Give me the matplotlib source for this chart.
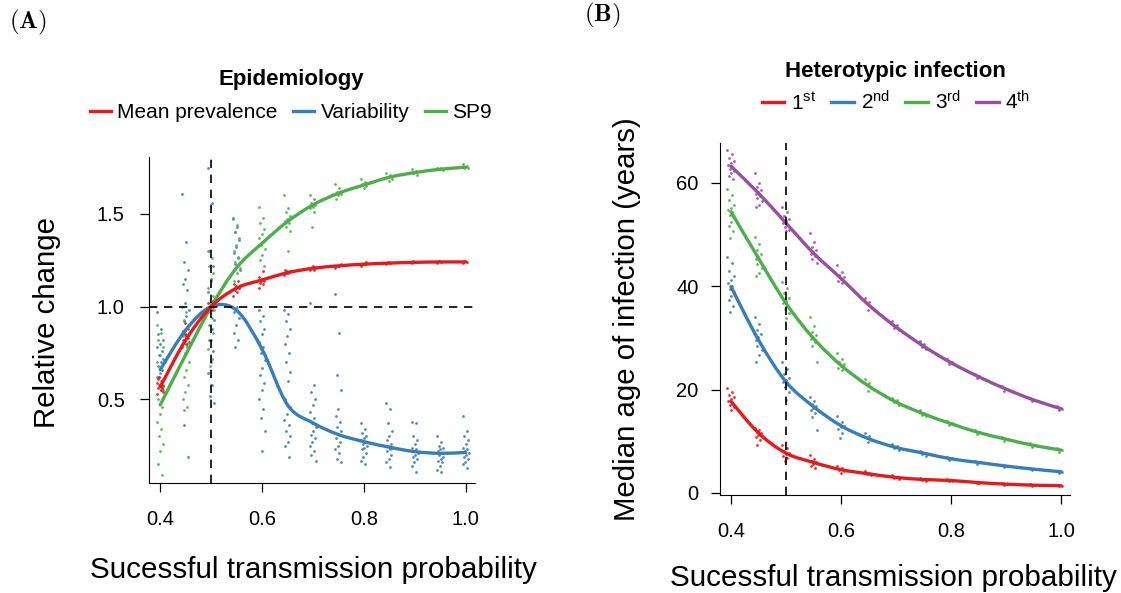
import numpy as np
import matplotlib
matplotlib.use('Agg')
import matplotlib.pyplot as plt
from matplotlib.lines import Line2D
from matplotlib.path import Path
from matplotlib.patches import PathPatch

plt.rcParams['font.family'] = ['Liberation Sans', 'DejaVu Sans']
plt.rcParams['mathtext.fontset'] = 'custom'
plt.rcParams['mathtext.rm'] = 'Liberation Sans'
plt.rcParams['mathtext.it'] = 'Liberation Sans:italic'
plt.rcParams['mathtext.bf'] = 'Liberation Sans:bold'

#%% data
prob = [0.40, 0.45, 0.50, 0.55, 0.60, 0.65, 0.70, 0.75, 0.80, 0.85, 0.90, 0.95, 1.00]

# panel A - smooth lines
prev_line = [0.567, 0.82, 1.0, 1.10, 1.144, 1.183, 1.207, 1.22, 1.229, 1.235, 1.239, 1.241, 1.241]
var_line = [0.66, 0.874, 1.0, 0.98, 0.77, 0.47, 0.373, 0.31, 0.272, 0.242, 0.218, 0.209, 0.214]
sp9_line = [0.47, 0.74, 1.0, 1.21, 1.342, 1.459, 1.549, 1.612, 1.656, 1.698, 1.723, 1.741, 1.752]

# panel A - replicate points
prev_pts = [
    [0.53, 0.55, 0.56, 0.57, 0.58, 0.59, 0.60, 0.62, 0.54, 0.57, 0.61, 0.56],
    [0.78, 0.80, 0.82, 0.83, 0.85, 0.87, 0.89, 0.91, 0.81, 0.84],
    [0.97, 0.98, 0.99, 1.00, 1.01, 1.02, 1.03, 1.00],
    [1.06, 1.08, 1.09, 1.10, 1.11, 1.12, 1.14, 1.10],
    [1.10, 1.12, 1.13, 1.14, 1.15, 1.16, 1.19, 1.14],
    [1.17, 1.18, 1.18, 1.19, 1.19, 1.20],
    [1.20, 1.20, 1.21, 1.21, 1.22],
    [1.21, 1.22, 1.22, 1.23],
    [1.22, 1.23, 1.23, 1.24],
    [1.23, 1.235, 1.24],
    [1.235, 1.24, 1.245],
    [1.235, 1.24, 1.245],
    [1.235, 1.24, 1.245],
]
var_pts = [
    [0.97, 0.88, 0.85, 0.82, 0.80, 0.78, 0.76, 0.74, 0.72, 0.70, 0.68, 0.66, 0.64, 0.62, 0.60, 0.58, 0.55],
    [1.61, 1.35, 1.24, 1.20, 1.15, 1.12, 1.09, 1.02, 0.98, 0.95, 0.92, 0.88, 0.85, 0.82, 0.78, 0.36, 0.19],
    [1.75, 1.56, 1.30, 1.22, 1.15, 1.08, 1.03, 0.98, 0.93, 0.88, 0.82, 0.76, 0.70, 0.64, 0.58, 0.52, 0.48],
    [1.48, 1.43, 1.40, 1.36, 1.32, 1.29, 1.26, 1.23, 1.20, 1.00, 0.97, 0.94, 0.90, 0.86, 0.82, 0.78],
    [0.98, 0.95, 0.92, 0.88, 0.85, 0.81, 0.78, 0.75, 0.71, 0.67, 0.63, 0.59, 0.55, 0.50, 0.45, 0.40, 0.33, 0.22],
    [0.98, 0.96, 0.92, 0.88, 0.84, 0.80, 0.75, 0.70, 0.65, 0.60, 0.50, 0.46, 0.42, 0.39, 0.36, 0.33, 0.30, 0.27, 0.25, 0.19],
    [1.02, 0.58, 0.54, 0.50, 0.47, 0.43, 0.40, 0.37, 0.35, 0.33, 0.31, 0.29, 0.27, 0.25, 0.22, 0.20, 0.17],
    [1.07, 0.86, 0.63, 0.55, 0.45, 0.41, 0.38, 0.35, 0.33, 0.31, 0.29, 0.27, 0.25, 0.23, 0.21, 0.18, 0.16],
    [0.37, 0.34, 0.32, 0.30, 0.29, 0.28, 0.27, 0.26, 0.25, 0.24, 0.23, 0.21, 0.19, 0.17, 0.15],
    [0.48, 0.45, 0.37, 0.33, 0.30, 0.28, 0.26, 0.25, 0.24, 0.23, 0.22, 0.20, 0.18, 0.16, 0.135],
    [0.38, 0.37, 0.30, 0.28, 0.26, 0.24, 0.23, 0.22, 0.21, 0.20, 0.19, 0.18, 0.16, 0.14, 0.11],
    [0.30, 0.27, 0.25, 0.24, 0.23, 0.22, 0.21, 0.20, 0.19, 0.18, 0.17, 0.16, 0.14, 0.12, 0.11],
    [0.41, 0.33, 0.30, 0.28, 0.26, 0.24, 0.23, 0.22, 0.21, 0.20, 0.19, 0.18, 0.16, 0.15, 0.13],
]
sp9_pts = [
    [0.90, 0.86, 0.82, 0.78, 0.74, 0.70, 0.66, 0.62, 0.58, 0.55, 0.50, 0.46, 0.42, 0.38, 0.34, 0.30, 0.26, 0.22, 0.15, 0.09],
    [1.00, 0.97, 0.93, 0.90, 0.87, 0.84, 0.80, 0.75, 0.70, 0.66, 0.62, 0.58, 0.54, 0.50, 0.46, 0.44],
    [1.30, 1.26, 1.22, 1.18, 1.14, 1.10, 1.06, 1.02, 0.98, 0.94, 0.90, 0.86, 0.82, 0.77, 0.72, 0.68],
    [1.47, 1.44, 1.40, 1.37, 1.33, 1.30, 1.27, 1.24, 1.21, 1.18, 1.14, 1.10],
    [1.54, 1.48, 1.45, 1.42, 1.39, 1.37, 1.35, 1.33, 1.31, 1.28, 1.25, 1.22],
    [1.60, 1.53, 1.51, 1.49, 1.47, 1.46, 1.45, 1.43, 1.41, 1.30],
    [1.60, 1.58, 1.56, 1.55, 1.54, 1.53, 1.51, 1.43],
    [1.66, 1.64, 1.62, 1.61, 1.60, 1.58],
    [1.69, 1.67, 1.66, 1.65, 1.64],
    [1.72, 1.71, 1.70, 1.69, 1.68],
    [1.74, 1.73, 1.72, 1.71],
    [1.75, 1.745, 1.74, 1.735],
    [1.77, 1.76, 1.75, 1.745],
]

# panel B - smooth lines (median age, years)
inf1_line = [17.7, 11.6, 7.7, 5.9, 4.5, 3.7, 3.0, 2.6, 2.4, 2.0, 1.7, 1.5, 1.4]
inf2_line = [39.9, 29.6, 21.5, 16.7, 13.0, 10.5, 8.8, 7.7, 6.6, 5.9, 5.2, 4.6, 4.1]
inf3_line = [54.4, 45.4, 36.7, 29.9, 24.7, 20.7, 17.6, 15.3, 13.4, 11.7, 10.4, 9.2, 8.3]
inf4_line = [63.2, 58.0, 52.2, 46.4, 41.5, 36.4, 32.1, 28.4, 25.2, 22.5, 20.1, 18.0, 16.3]

# panel B - replicate points
inf1_pts = [
    [20.3, 19.6, 19.0, 18.6, 18.2, 17.8, 17.4, 17.0, 16.6, 16.1],
    [12.6, 12.1, 11.8, 11.5, 11.2, 10.8, 10.3, 9.3],
    [9.3, 8.6, 8.1, 7.8, 7.5, 7.2, 6.8, 6.2],
    [7.3, 6.6, 6.2, 5.9, 5.6, 5.3, 4.8],
    [5.2, 4.8, 4.5, 4.2, 3.9],
    [4.2, 3.9, 3.7, 3.4],
    [3.4, 3.1, 2.9, 2.7],
    [2.9, 2.7, 2.5, 2.4],
    [2.6, 2.4, 2.3],
    [2.2, 2.0, 1.9],
    [1.9, 1.7, 1.6],
    [1.7, 1.5, 1.4],
    [1.6, 1.4, 1.3],
]
inf2_pts = [
    [45.7, 44.4, 43.0, 42.0, 41.2, 40.6, 40.0, 39.4, 38.8, 38.1, 37.3, 36.2, 35.0],
    [34.1, 32.6, 31.5, 30.7, 30.1, 29.6, 29.1, 28.5, 27.7, 26.6, 25.4],
    [25.4, 24.0, 23.0, 22.3, 21.8, 21.4, 21.0, 20.4, 19.6, 18.0],
    [18.6, 17.8, 17.2, 16.8, 16.4, 16.0, 15.5, 14.6, 12.2],
    [14.8, 13.8, 13.3, 13.0, 12.7, 12.3, 11.6, 10.6],
    [11.6, 11.0, 10.6, 10.2, 9.8],
    [9.5, 9.0, 8.7, 8.4],
    [8.2, 7.8, 7.5, 7.2],
    [7.0, 6.7, 6.4],
    [6.2, 5.9, 5.6],
    [5.5, 5.2, 5.0],
    [4.9, 4.6, 4.4],
    [4.3, 4.1, 3.9],
]
inf3_pts = [
    [58.8, 57.6, 56.6, 55.8, 55.2, 54.8, 54.3, 53.8, 53.2, 52.5, 51.6, 50.6, 49.3],
    [49.6, 48.2, 47.0, 46.2, 45.7, 45.3, 44.8, 44.2, 43.5, 42.6, 41.9],
    [40.9, 39.6, 38.6, 37.8, 37.2, 36.7, 36.2, 35.6, 34.8, 33.8],
    [34.1, 32.3, 31.2, 30.6, 30.1, 29.7, 29.2, 28.4, 25.4],
    [27.1, 26.0, 25.3, 24.9, 24.5, 24.1, 23.8],
    [22.0, 21.3, 20.8, 20.3, 19.8],
    [18.4, 17.9, 17.5, 17.1],
    [16.0, 15.5, 15.1, 14.8],
    [13.9, 13.5, 13.1],
    [12.1, 11.8, 11.4],
    [10.8, 10.4, 10.1],
    [9.6, 9.2, 8.9],
    [8.6, 8.3, 8.0],
]
inf4_pts = [
    [66.4, 65.5, 64.8, 64.2, 63.8, 63.4, 63.0, 62.6, 62.2, 61.8, 61.3, 60.8],
    [61.9, 60.0, 59.2, 58.6, 58.2, 57.8, 57.4, 57.0, 56.4, 55.8, 55.4],
    [55.4, 54.3, 53.5, 53.0, 52.6, 52.2, 51.8, 51.4, 50.9, 50.6],
    [50.3, 48.5, 47.6, 47.0, 46.6, 46.2, 45.8, 45.3, 44.5],
    [44.1, 42.8, 42.2, 41.8, 41.4, 41.0, 40.6],
    [37.8, 37.0, 36.5, 36.0, 35.4],
    [33.2, 32.5, 32.0, 31.5],
    [29.4, 28.8, 28.3, 27.8],
    [26.0, 25.4, 24.9],
    [23.1, 22.6, 22.2],
    [20.6, 20.2, 19.8],
    [18.4, 18.0, 17.7],
    [16.8, 16.3, 16.0],
]

red, blue, green, purple = '#E41A1C', '#377EB8', '#4DAF4A', '#984EA3'

#%%
def jitter_x(x0, n, width=0.0065):
    k = np.arange(n)
    return x0 + width * (2 * ((k * 0.618034) % 1.0) - 1)

def smooth_path(xs, ys):
    """Catmull-Rom through the points, drawn as cubic bezier segments"""
    p = np.column_stack([xs, ys]).astype(float)
    verts, codes = [p[0]], [Path.MOVETO]
    for i in range(len(p) - 1):
        p_prev = p[max(i - 1, 0)]
        p_next = p[min(i + 2, len(p) - 1)]
        c1 = p[i] + (p[i + 1] - p_prev) / 6
        c2 = p[i + 1] - (p_next - p[i]) / 6
        verts += [c1, c2, p[i + 1]]
        codes += [Path.CURVE4] * 3
    return Path(verts, codes)

def draw_series(ax, pts, line, color):
    for x0, vals in zip(prob, pts):
        ax.scatter(jitter_x(x0, len(vals)), vals, s=4, color=color, lw=0, alpha=0.9, zorder=2)
    ax.add_patch(PathPatch(smooth_path(prob, line), fill=False, edgecolor=color, lw=2.4,
                           capstyle='round', zorder=3))

def style_axes(ax, ypad):
    for s in ['top', 'right']:
        ax.spines[s].set_visible(False)
    ax.tick_params(direction='out', length=6.5, width=0.9, labelsize=14.5)
    ax.tick_params(axis='x', pad=13)
    ax.tick_params(axis='y', pad=ypad)

fig = plt.figure(figsize=(11.21, 5.93), dpi=100)

#%% panel A
axA = fig.add_axes([149/1121, 110/593, 326/1121, 326/593])
draw_series(axA, var_pts, var_line, blue)
draw_series(axA, sp9_pts, sp9_line, green)
draw_series(axA, prev_pts, prev_line, red)
axA.axvline(0.5, color='k', ls=(0, (5, 4)), lw=1.2, zorder=4)
axA.axhline(1.0, color='k', ls=(0, (5, 4)), lw=1.2, zorder=4)
axA.set_xlim(0.378, 1.018)
axA.set_ylim(0.049, 1.807)
axA.set_xticks([0.4, 0.6, 0.8, 1.0])
axA.set_xticklabels(['0.4', '0.6', '0.8', '1.0'])
axA.set_yticks([0.5, 1.0, 1.5])
axA.set_yticklabels(['0.5', '1.0', '1.5'])
style_axes(axA, 11)

fig.text(291/1121, 1-80/593, 'Epidemiology', ha='center', va='center', fontsize=16, fontweight='bold')
hA = [Line2D([], [], color=c, lw=2.4) for c in [red, blue, green]]
fig.legend(hA, ['Mean prevalence', 'Variability', 'SP9'], loc='center', bbox_to_anchor=(291/1121, 1-113/593),
           ncol=3, fontsize=15, frameon=False, handlelength=1.0, handletextpad=0.3, columnspacing=0.75,
           borderpad=0, borderaxespad=0)
fig.text(47/1121, 1-322/593, 'Relative change', rotation=90, ha='center', va='center', fontsize=21.2)
fig.text(313/1121, 1-570/593, 'Sucessful transmission probability', ha='center', va='center', fontsize=21.3)
fig.text(9/1121, 1-22/593, r'$\mathbf{(A)}$', math_fontfamily='cm', ha='left', va='center', fontsize=18)

#%% panel B
axB = fig.add_axes([720/1121, 98/593, 350/1121, 352/593])
draw_series(axB, inf1_pts, inf1_line, red)
draw_series(axB, inf2_pts, inf2_line, blue)
draw_series(axB, inf3_pts, inf3_line, green)
draw_series(axB, inf4_pts, inf4_line, purple)
axB.axvline(0.5, color='k', ls=(0, (5, 4)), lw=1.2, zorder=4)
axB.set_xlim(0.38, 1.0164)
axB.set_ylim(-0.4, 67.7)
axB.set_xticks([0.4, 0.6, 0.8, 1.0])
axB.set_xticklabels(['0.4', '0.6', '0.8', '1.0'])
axB.set_yticks([0, 20, 40, 60])
style_axes(axB, 9)

fig.text(895/1121, 1-71/593, 'Heterotypic infection', ha='center', va='center', fontsize=16, fontweight='bold')
hB = [Line2D([], [], color=c, lw=2.4) for c in [red, blue, green, purple]]
fig.legend(hB, [r'1$^{\mathrm{st}}$', r'2$^{\mathrm{nd}}$', r'3$^{\mathrm{rd}}$', r'4$^{\mathrm{th}}$'],
           loc='center', bbox_to_anchor=(896/1121, 1-102/593), ncol=4, fontsize=15, frameon=False,
           handlelength=1.1, handletextpad=0.3, columnspacing=0.75, borderpad=0, borderaxespad=0)
fig.text(627/1121, 1-319/593, 'Median age of infection (years)', rotation=90, ha='center', va='center', fontsize=21.2)
fig.text(893/1121, 1-578/593, 'Sucessful transmission probability', ha='center', va='center', fontsize=21.3)
fig.text(584/1121, 1-15/593, r'$\mathbf{(B)}$', math_fontfamily='cm', ha='left', va='center', fontsize=18)

fig.savefig('out.png', dpi=100)
